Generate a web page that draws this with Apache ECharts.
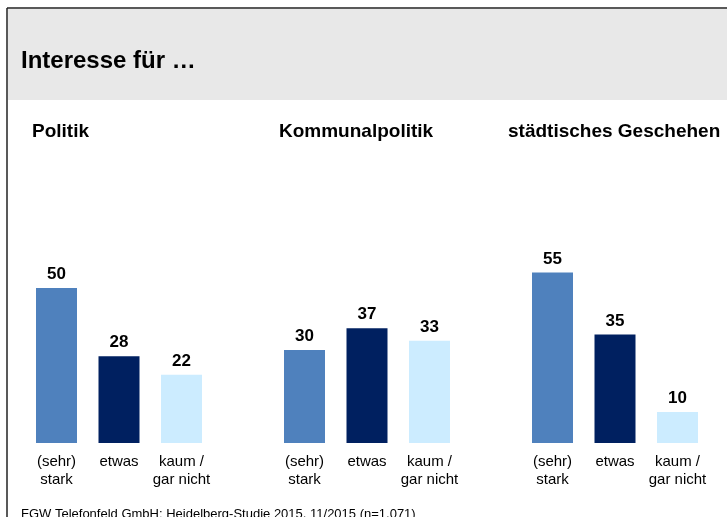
<!DOCTYPE html>
<html>
<head>
<meta charset="utf-8">
<script src="https://cdn.jsdelivr.net/npm/echarts@6/dist/echarts.min.js"></script>
<style>
  html, body { margin: 0; padding: 0; background: #fff; }
  #chart { width: 727px; height: 517px; }
</style>
</head>
<body>
<div id="chart"></div>
<script>
const titleText = 'Interesse für …'
const footerText = 'FGW Telefonfeld GmbH: Heidelberg-Studie 2015, 11/2015 (n=1.071)'
const categories = ['(sehr)\nstark', 'etwas', 'kaum /\ngar nicht']
const panelTitles = ['Politik', 'Kommunalpolitik', 'städtisches Geschehen']
const politik = [50, 28, 22]
const kommunalpolitik = [30, 37, 33]
const staedtisch = [55, 35, 10]
const panelValues = [politik, kommunalpolitik, staedtisch]
const barColors = ['#4f81bd', '#002060', '#ccecff']

const fontFamily = '"Liberation Sans", Arial, sans-serif'
const panelLefts = [25.25, 273.25, 521.25]
const panelTitleX = [32, 279, 508]

const chart = echarts.init(document.getElementById('chart'))

const grids = panelLefts.map((left) => ({
  left: left,
  width: 187.5,
  top: 257,
  height: 186,
}))

const xAxes = panelLefts.map((_, i) => ({
  type: 'category',
  gridIndex: i,
  data: categories,
  axisLine: { show: false },
  axisTick: { show: false },
  axisLabel: {
    color: '#000',
    fontFamily: fontFamily,
    fontSize: 15,
    lineHeight: 18,
    margin: 10,
    interval: 0,
  },
}))

const yAxes = panelLefts.map((_, i) => ({
  type: 'value',
  gridIndex: i,
  min: 0,
  max: 60,
  show: false,
  splitLine: { show: false },
}))

const series = panelValues.map((values, i) => ({
  type: 'bar',
  xAxisIndex: i,
  yAxisIndex: i,
  barWidth: 41,
  data: values.map((v, j) => ({ value: v, itemStyle: { color: barColors[j] } })),
  label: {
    show: true,
    position: 'top',
    distance: 5,
    color: '#000',
    fontFamily: fontFamily,
    fontWeight: 'bold',
    fontSize: 17,
  },
}))

const graphics = [
  {
    type: 'rect',
    shape: { x: 8, y: 9, width: 719, height: 91 },
    style: { fill: '#e8e8e8' },
    silent: true,
  },
  {
    type: 'line',
    shape: { x1: 7, y1: 8, x2: 727, y2: 8 },
    style: { stroke: '#222', lineWidth: 1.5 },
    silent: true,
  },
  {
    type: 'line',
    shape: { x1: 7, y1: 8, x2: 7, y2: 517 },
    style: { stroke: '#222', lineWidth: 1.5 },
    silent: true,
  },
  {
    type: 'text',
    style: {
      text: titleText,
      x: 21,
      y: 61,
      verticalAlign: 'middle',
      font: 'bold 24px ' + fontFamily,
      fill: '#000',
    },
  },
  {
    type: 'text',
    style: {
      text: footerText,
      x: 21,
      y: 514,
      verticalAlign: 'middle',
      font: '13px ' + fontFamily,
      fill: '#000',
    },
  },
]

panelTitles.forEach((text, i) => {
  graphics.push({
    type: 'text',
    style: {
      text: text,
      x: panelTitleX[i],
      y: 132,
      verticalAlign: 'middle',
      font: 'bold 19px ' + fontFamily,
      fill: '#000',
    },
  })
})

chart.setOption({
  animation: false,
  backgroundColor: '#fff',
  grid: grids,
  xAxis: xAxes,
  yAxis: yAxes,
  series: series,
  graphic: graphics,
})
</script>
</body>
</html>
